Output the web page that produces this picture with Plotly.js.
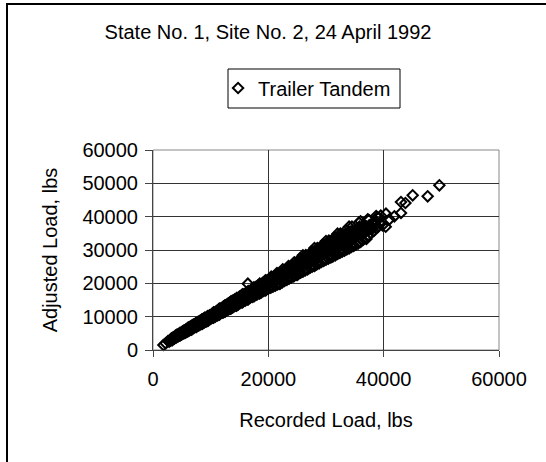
<!DOCTYPE html>
<html>
<head>
<meta charset="utf-8">
<script src="https://cdn.plot.ly/plotly-3.0.1.min.js"></script>
<style>
  html, body { margin: 0; padding: 0; background: #fff; }
  #wrap { position: relative; width: 546px; height: 462px; }
  #chart { position: absolute; left: 0; top: 0; width: 546px; height: 462px; }
  #frame { position: absolute; left: 6px; top: 3px; width: 546px; height: 470px;
           border-left: 2px solid #000; border-top: 2px solid #000; pointer-events: none; }
</style>
</head>
<body>
<div id="wrap"><div id="chart"></div><div id="frame"></div></div>
<script>
const chartTitle = "State No. 1, Site No. 2, 24 April 1992";
const seriesName = "Trailer Tandem";
const xTitle = "Recorded Load, lbs";
const yTitle = "Adjusted Load, lbs";
const xTicks = [0, 20000, 40000, 60000];
const yTicks = [0, 10000, 20000, 30000, 40000, 50000, 60000];

const recordedLoad = [
  1800, 2600, 3000, 3200, 3400, 3500, 3700, 3900, 4000, 4200,
  4300, 4500, 4600, 4800, 4900, 5000, 5200, 5300, 5400, 5600,
  5700, 5800, 5900, 6000, 3300, 4100, 4700, 5100, 5500, 6000,
  6100, 6200, 6300, 6400, 6500, 6600, 6700, 6800, 6900, 7000,
  7100, 7200, 7300, 7400, 7500, 7600, 7700, 7800, 7900, 8000,
  8100, 8200, 8300, 8400, 8500, 8600, 8700, 8800, 8900, 9000,
  9200, 9400, 9600, 9800, 10000, 10200, 10400, 10600, 10800, 11000,
  11200, 11400, 11600, 11800, 12000, 6800, 7600, 8800, 9900, 11300,
  12100, 12200, 12300, 12400, 12500, 12600, 12700, 12800, 12900, 13000,
  13100, 13200, 13300, 13400, 13500, 13600, 13700, 13800, 13900, 14000,
  14200, 14400, 14600, 14800, 15000, 15200, 15400, 15600, 15800, 16000,
  16200, 16400, 16600, 16800, 17000, 17200, 17400, 17600, 17800, 18000,
  18200, 18400, 18600, 18800, 19000, 19200, 19400, 19600, 19800, 20000,
  12600, 13300, 14100, 14900, 15700, 16500, 17300, 18100, 18900, 19700,
  12900, 13800, 14700, 15500, 16300, 17100, 17900, 18700, 19500, 16900,
  16450,
  20200, 20400, 20600, 20800, 21000, 21200, 21400, 21600, 21800, 22000,
  22200, 22400, 22600, 22800, 23000, 23200, 23400, 23600, 23800, 24000,
  24200, 24400, 24600, 24800, 25000, 25200, 25400, 25600, 25800, 26000,
  26200, 26400, 26600, 26800, 27000, 27200, 27400, 27600, 27800, 28000,
  28200, 28400, 28600, 28800, 29000, 29200, 29400, 29600, 29800, 30000,
  20500, 21300, 22100, 22900, 23700, 24500, 25300, 26100, 26900, 27700,
  28500, 29300, 20900, 21700, 22500, 23300, 24100, 24900, 25700, 26500,
  27300, 28100, 28900, 29700, 22000, 24000, 26000, 28000, 23500, 27500,
  30200, 30400, 30600, 30800, 31000, 31200, 31400, 31600, 31800, 32000,
  32200, 32400, 32600, 32800, 33000, 33200, 33400, 33600, 33800, 34000,
  34200, 34400, 34600, 34800, 35000, 35200, 35400, 35600, 35800, 36000,
  30500, 31100, 31700, 32300, 32900, 33500, 34100, 34700, 35300, 35900,
  30900, 31500, 32100, 32700, 33300, 33900, 34500, 30300, 31900, 33700,
  36200, 36400, 36600, 36800, 37000, 37200, 37500, 37800, 38000, 38300,
  36300, 36900, 37400, 38100, 38600, 39000, 39400, 39800, 35700, 37450,
  38900, 36700, 37900, 38500, 40350, 37240, 38700, 39500, 40400,
  41000, 41860, 43000, 43000, 43770, 45030, 47630, 49660,
  7500, 8500, 9500, 10500, 11500, 12500, 13500, 14500, 15500, 16500,
  17500, 18500, 19500, 20500, 21500, 22500, 23500, 24500, 25500, 26500,
  27500, 28500, 29500, 30500, 31500, 32500, 33500, 34500,
  7500, 8500, 9500, 10500, 11500, 12500, 13500, 14500, 15500, 16500,
  17500, 18500, 19500, 20500, 21500, 22500, 23500, 24500, 25500, 26500,
  27500, 28500, 29500, 30500, 31500, 32500, 33500, 34500,
  7200, 8300, 9300, 10300, 11300, 12300, 13300, 14300, 15300, 16300,
  17300, 18300, 19300, 20300, 21300, 22300, 23300, 24300, 25300, 26300,
  27300, 28300, 29300, 30300, 31300, 32300, 33300, 34300, 35300, 36300,
  7800, 8800, 9800, 10800, 11800, 12800, 13800, 14800, 15800, 16800,
  17800, 18800, 19800, 20800, 21800, 22800, 23800, 24800, 25800, 26800,
  27800, 28800, 29800, 30800, 31800, 32800, 33800, 34800, 35800, 36800,
  7600, 8600, 9600, 10600, 11600, 12600, 13600, 14600, 15600, 16600,
  17600, 18600, 19600, 20600, 21600, 22600, 23600, 24600, 25600, 26600,
  27600, 28600, 29600, 30600, 31600, 32600, 33600, 34600, 35600,
  2200, 2800, 3600, 4400, 5000, 5600, 6200, 6600,
  26000, 28000, 30000, 32000, 34000, 36000,
  22000, 25000, 28000, 31000, 34000, 37000
];

const adjustedLoad = [
  1500, 2700, 2800, 3500, 3100, 3800, 3400, 4300, 3700, 4600,
  4000, 4300, 5100, 4500, 5300, 4700, 5600, 5000, 5900, 5200,
  6100, 5400, 6300, 5600, 2900, 4500, 4400, 5500, 5100, 6500,
  6700, 5700, 6900, 6000, 6300, 7200, 6100, 7400, 6500, 7600,
  6700, 7700, 6900, 8000, 7000, 8100, 7200, 8400, 7400, 8600,
  7500, 8800, 7800, 9000, 7900, 9200, 8100, 9400, 8300, 9700,
  8500, 10000, 8900, 10400, 9300, 10800, 9700, 11200, 10000, 11700,
  10400, 12100, 10800, 12500, 11200, 7000, 7500, 8700, 9800, 11100,
  12900, 11300, 13100, 11500, 13300, 11700, 13500, 11900, 13800, 12100,
  14000, 12300, 14200, 12500, 14400, 12700, 14700, 12800, 14900, 13000,
  15200, 13300, 15600, 13700, 16000, 14100, 16400, 14500, 16800, 14800,
  17200, 15200, 17600, 15600, 18000, 15900, 18400, 16300, 18900, 16600,
  19300, 17000, 19700, 17300, 20100, 17700, 20500, 18000, 20900, 18400,
  12500, 13200, 14200, 14800, 15800, 16400, 17400, 18000, 19000, 19600,
  13200, 13500, 15100, 15200, 16700, 16800, 18300, 18400, 19900, 17800,
  19900,
  21200, 18700, 21600, 19000, 22000, 19300, 22400, 19700, 22800, 20000,
  23200, 20300, 23600, 20700, 24000, 21000, 24400, 21400, 24800, 21800,
  25300, 22100, 25700, 22500, 26100, 22800, 26500, 23200, 27000, 23500,
  27400, 23900, 27800, 24200, 28300, 24600, 28700, 25000, 29200, 25300,
  29600, 25700, 30000, 26000, 30500, 26400, 30900, 26700, 31300, 27100,
  20300, 21500, 22000, 23100, 23600, 24700, 25200, 26300, 26800, 27900,
  28400, 29500, 21400, 21300, 23000, 22800, 24600, 24300, 26200, 25900,
  27800, 27500, 29400, 29100, 22300, 23700, 25600, 28300, 24200, 26800,
  31800, 27400, 32100, 27800, 32500, 28100, 33000, 28400, 33300, 28800,
  33700, 29100, 34100, 29500, 34400, 29800, 34800, 30200, 35100, 30500,
  35500, 30900, 35800, 31200, 36000, 31600, 36200, 32000, 36400, 32400,
  30600, 31000, 31900, 32100, 33100, 33200, 34300, 34400, 35400, 35600,
  29900, 32600, 31300, 33900, 32400, 35000, 33700, 29500, 30700, 31900,
  36900, 33000, 37200, 33600, 37000, 34200, 37400, 35000, 38000, 35700,
  34800, 35800, 36000, 36800, 37600, 36900, 37800, 37400, 38200, 39000,
  39800, 35400, 36200, 38300, 37000, 39200, 40200, 40300, 40900,
  39200, 40100, 41100, 44400, 44100, 46400, 46100, 49400,
  8100, 9200, 10200, 11300, 12400, 13400, 14500, 15600, 16700, 17700,
  18800, 19900, 20900, 22000, 23100, 24200, 25200, 26300, 27400, 28500,
  29500, 30600, 31700, 32800, 33800, 34900, 36000, 37000,
  6900, 7800, 8700, 9700, 10600, 11500, 12400, 13300, 14300, 15200,
  16100, 17000, 17900, 18900, 19800, 20700, 21600, 22500, 23500, 24400,
  25300, 26200, 27100, 28100, 29000, 29900, 30800, 31800,
  7300, 8200, 9400, 10200, 11400, 12200, 13400, 14200, 15400, 16200,
  17400, 18200, 19400, 20200, 21400, 22200, 23400, 24200, 25400, 26200,
  27400, 28200, 29400, 30200, 31400, 32200, 33400, 34200, 35200, 36000,
  8100, 8500, 10200, 10400, 12200, 12400, 14300, 14300, 16400, 16200,
  18400, 18100, 20500, 20100, 22600, 22000, 24600, 23900, 26700, 25900,
  28800, 27800, 30800, 29700, 32900, 31700, 34900, 33600, 37000, 35500,
  7500, 8800, 9500, 10800, 11500, 12900, 13400, 14900, 15400, 16900,
  17300, 18900, 19300, 21000, 21200, 23000, 23200, 25000, 25100, 27100,
  27100, 29100, 29000, 31200, 31000, 33200, 32900, 35200, 34800,
  2000, 2500, 3700, 4600, 5200, 5800, 6400, 6500,
  28400, 30600, 32700, 34900, 37000, 38600,
  19800, 22500, 25200, 27900, 30600, 33300
];

const font = { family: "Liberation Sans, Arial, sans-serif", color: "#000" };
const f20 = Object.assign({ size: 20 }, font);

const trace = {
  type: "scatter",
  mode: "markers",
  name: seriesName,
  x: recordedLoad,
  y: adjustedLoad,
  marker: { symbol: "diamond-open", size: 8, color: "#000", line: { color: "#000", width: 2 } },
  cliponaxis: false,
  hoverinfo: "skip"
};

const layout = {
  width: 546,
  height: 462,
  margin: { l: 153, r: 47, t: 150, b: 112 },
  paper_bgcolor: "#fff",
  plot_bgcolor: "#fff",
  font: f20,
  showlegend: true,
  title: {
    text: chartTitle,
    font: f20,
    x: 268 / 546, xanchor: "center", xref: "container",
    y: 1 - 32 / 462, yanchor: "middle", yref: "container"
  },
  legend: {
    x: 0.188, xanchor: "left",
    y: 1.31, yanchor: "middle",
    bgcolor: "rgba(0,0,0,0)",
    borderwidth: 0,
    font: f20
  },
  xaxis: {
    range: [0, 60000],
    tickvals: xTicks,
    ticktext: xTicks.map(String),
    ticks: "outside", ticklen: 6, tickcolor: "#444", tickwidth: 1,
    ticklabelstandoff: 5,
    showline: true, linecolor: "#444", linewidth: 1,
    showgrid: true, gridcolor: "#333", gridwidth: 1,
    zeroline: false,
    tickfont: f20,
    title: { text: xTitle, font: f20, standoff: 23 },
    fixedrange: true
  },
  yaxis: {
    range: [0, 60000],
    tickvals: yTicks,
    ticktext: yTicks.map(String),
    ticks: "outside", ticklen: 7, tickcolor: "#444", tickwidth: 1,
    ticklabelstandoff: 3,
    showline: true, linecolor: "#444", linewidth: 1,
    showgrid: true, gridcolor: "#333", gridwidth: 1,
    zeroline: false,
    tickfont: f20,
    title: { text: yTitle, font: f20, standoff: 19 },
    fixedrange: true
  },
  shapes: [
    { type: "rect", xref: "paper", yref: "paper", x0: 0, x1: 1, y0: 0, y1: 1,
      line: { color: "#888", width: 1 }, fillcolor: "rgba(0,0,0,0)", layer: "below" },
    { type: "rect", xref: "paper", yref: "paper", x0: 0.2168, x1: 0.7139, y0: 1.21, y1: 1.405,
      line: { color: "#000", width: 1 }, fillcolor: "rgba(0,0,0,0)" }
  ]
};

Plotly.newPlot("chart", [trace], layout, { displayModeBar: false, staticPlot: true });
</script>
</body>
</html>
